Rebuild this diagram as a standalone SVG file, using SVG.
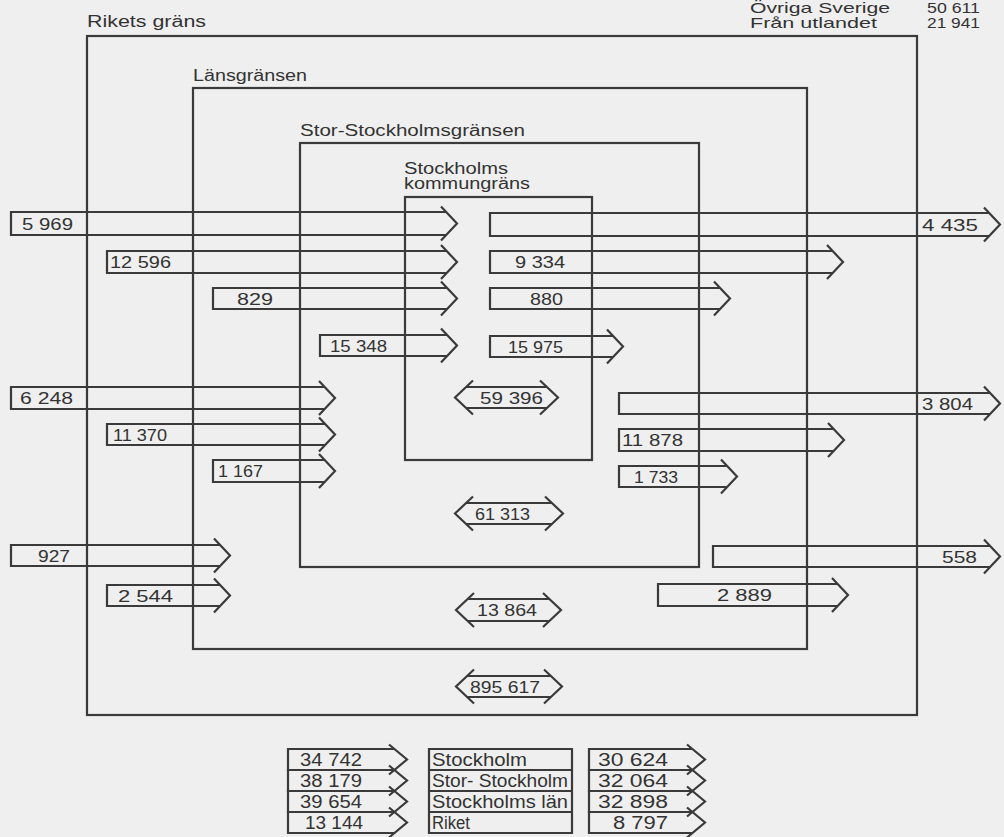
<svg xmlns="http://www.w3.org/2000/svg" width="1004" height="837" viewBox="0 0 1004 837">
<style>
.b{fill:none;stroke:#3a3a3a;stroke-width:2.2}
.a{fill:none;stroke:#3a3a3a;stroke-width:2.2;stroke-linejoin:miter}
.t{font-family:"Liberation Sans",Arial,sans-serif;font-size:16px;fill:#333}
.h{font-family:"Liberation Sans",Arial,sans-serif;font-size:15px;fill:#333}
.n{font-family:"Liberation Sans",Arial,sans-serif;font-size:17px;fill:#333}
.l{font-family:"Liberation Sans",Arial,sans-serif;font-size:18px;fill:#333}
</style>
<rect width="1004" height="837" fill="#efefef"/>
<g id="header">
<text class="h" x="750" y="13" textLength="140" lengthAdjust="spacingAndGlyphs">Övriga Sverige</text>
<text class="h" x="927" y="13" textLength="53" lengthAdjust="spacingAndGlyphs">50 611</text>
<text class="h" x="750" y="28" textLength="127" lengthAdjust="spacingAndGlyphs">Från utlandet</text>
<text class="h" x="927" y="28" textLength="53" lengthAdjust="spacingAndGlyphs">21 941</text>
</g>
<g id="riket">
<rect class="b" x="87" y="36" width="830" height="679"/>
<text class="t" x="87" y="27" textLength="119" lengthAdjust="spacingAndGlyphs">Rikets gräns</text>
</g>
<g id="lan">
<rect class="b" x="193" y="88" width="614" height="561"/>
<text class="t" x="193" y="81" textLength="114" lengthAdjust="spacingAndGlyphs">Länsgränsen</text>
</g>
<g id="storstockholm">
<rect class="b" x="300" y="143" width="399" height="424"/>
<text class="t" x="300" y="136" textLength="225" lengthAdjust="spacingAndGlyphs">Stor-Stockholmsgränsen</text>
</g>
<g id="kommun">
<rect class="b" x="405" y="197" width="187" height="263"/>
<text class="t" x="404" y="174" textLength="104" lengthAdjust="spacingAndGlyphs">Stockholms</text>
<text class="t" x="404" y="189" textLength="126" lengthAdjust="spacingAndGlyphs">kommungräns</text>
</g>
<g id="connectors">
<path class="a" d="M446.2,212 H11 V235 H446.2 M441,206.5 L457,223.5 L441,240.5"/>
<path class="a" d="M446.6,251 H107 V273 H446.6 M441,245 L457,262 L441,279"/>
<path class="a" d="M447.1,288 H213 V309 H447.1 M441,281.5 L457,298.5 L441,315.5"/>
<path class="a" d="M447.1,335 H320 V356 H447.1 M441,328.5 L457,345.5 L441,362.5"/>
<path class="a" d="M324.6,387 H11 V409 H324.6 M319,381 L335,398 L319,415"/>
<path class="a" d="M325.1,424 H107 V445 H325.1 M319,417.5 L335,434.5 L319,451.5"/>
<path class="a" d="M324.6,460 H213 V482 H324.6 M319,454 L335,471 L319,488"/>
<path class="a" d="M220.1,545 H11 V566 H220.1 M214,538.5 L230,555.5 L214,572.5"/>
<path class="a" d="M220.1,585 H107 V606 H220.1 M214,578.5 L230,595.5 L214,612.5"/>
<path class="a" d="M989.2,213 H490 V236 H989.2 M984,207.5 L1000,224.5 L984,241.5"/>
<path class="a" d="M832.6,251 H490 V273 H832.6 M827,245 L843,262 L827,279"/>
<path class="a" d="M720.1,288 H490 V309 H720.1 M714,281.5 L730,298.5 L714,315.5"/>
<path class="a" d="M613.1,336 H490 V357 H613.1 M607,329.5 L623,346.5 L607,363.5"/>
<path class="a" d="M990.1,393 H619 V414 H990.1 M984,386.5 L1000,403.5 L984,420.5"/>
<path class="a" d="M833.6,429 H619 V451 H833.6 M828,423 L844,440 L828,457"/>
<path class="a" d="M727.1,466 H619 V487 H727.1 M721,459.5 L737,476.5 L721,493.5"/>
<path class="a" d="M990.1,546 H713 V567 H990.1 M984,539.5 L1000,556.5 L984,573.5"/>
<path class="a" d="M837.6,584 H658 V606 H837.6 M832,578 L848,595 L832,612"/>
<path class="a" d="M466.1,387 H546.9 M466.1,408 H546.9 M473,380.5 L455,397.5 L473,414.5 M540,380.5 L558,397.5 L540,414.5"/>
<path class="a" d="M466.1,503 H551.9 M466.1,524 H551.9 M473,496.5 L455,513.5 L473,530.5 M545,496.5 L563,513.5 L545,530.5"/>
<path class="a" d="M467.6,599 H549.4 M467.6,621 H549.4 M474,593 L456,610 L474,627 M543,593 L561,610 L543,627"/>
<path class="a" d="M467.1,676 H550.9 M467.1,697 H550.9 M474,669.5 L456,686.5 L474,703.5 M544,669.5 L562,686.5 L544,703.5"/>
<text class="n" x="22" y="229.5" textLength="51" lengthAdjust="spacingAndGlyphs">5 969</text>
<text class="n" x="110" y="268" textLength="61" lengthAdjust="spacingAndGlyphs">12 596</text>
<text class="n" x="237" y="304.5" textLength="36" lengthAdjust="spacingAndGlyphs">829</text>
<text class="n" x="330" y="351.5" textLength="57" lengthAdjust="spacingAndGlyphs">15 348</text>
<text class="n" x="20" y="404" textLength="53" lengthAdjust="spacingAndGlyphs">6 248</text>
<text class="n" x="113" y="440.5" textLength="54" lengthAdjust="spacingAndGlyphs">11 370</text>
<text class="n" x="218" y="477" textLength="45" lengthAdjust="spacingAndGlyphs">1 167</text>
<text class="n" x="38" y="561.5" textLength="32" lengthAdjust="spacingAndGlyphs">927</text>
<text class="n" x="118" y="601.5" textLength="55" lengthAdjust="spacingAndGlyphs">2 544</text>
<text class="n" x="922" y="230.5" textLength="56" lengthAdjust="spacingAndGlyphs">4 435</text>
<text class="n" x="515" y="268" textLength="50" lengthAdjust="spacingAndGlyphs">9 334</text>
<text class="n" x="530" y="304.5" textLength="33" lengthAdjust="spacingAndGlyphs">880</text>
<text class="n" x="508" y="352.5" textLength="55" lengthAdjust="spacingAndGlyphs">15 975</text>
<text class="n" x="922" y="409.5" textLength="51" lengthAdjust="spacingAndGlyphs">3 804</text>
<text class="n" x="622" y="446" textLength="61" lengthAdjust="spacingAndGlyphs">11 878</text>
<text class="n" x="634" y="482.5" textLength="44" lengthAdjust="spacingAndGlyphs">1 733</text>
<text class="n" x="942" y="562.5" textLength="35" lengthAdjust="spacingAndGlyphs">558</text>
<text class="n" x="717" y="601" textLength="55" lengthAdjust="spacingAndGlyphs">2 889</text>
<text class="n" x="480" y="404" textLength="63" lengthAdjust="spacingAndGlyphs">59 396</text>
<text class="n" x="475" y="520" textLength="55" lengthAdjust="spacingAndGlyphs">61 313</text>
<text class="n" x="477" y="616" textLength="60" lengthAdjust="spacingAndGlyphs">13 864</text>
<text class="n" x="470" y="692.5" textLength="70" lengthAdjust="spacingAndGlyphs">895 617</text>
</g>
<g id="legend-in">
<path class="a" d="M394.4,749 H288 V770 H394.4 M389,744.5 L407,759.5 L389,774.5"/>
<path class="a" d="M394.4,770 H288 V791 H394.4 M389,765.5 L407,780.5 L389,795.5"/>
<path class="a" d="M394.4,791 H288 V812 H394.4 M389,786.5 L407,801.5 L389,816.5"/>
<path class="a" d="M394.4,812 H288 V833 H394.4 M389,807.5 L407,822.5 L389,837.5"/>
<text class="l" x="300" y="766" textLength="62" lengthAdjust="spacingAndGlyphs">34 742</text>
<text class="l" x="300" y="787" textLength="62" lengthAdjust="spacingAndGlyphs">38 179</text>
<text class="l" x="300" y="808" textLength="62" lengthAdjust="spacingAndGlyphs">39 654</text>
<text class="l" x="305" y="829" textLength="58" lengthAdjust="spacingAndGlyphs">13 144</text>
</g>
<g id="legend-names">
<path class="b" d="M429,749 H572 V833 H429 Z M429,770 H572 M429,791 H572 M429,812 H572"/>
<text class="l" x="432" y="766" textLength="95" lengthAdjust="spacingAndGlyphs">Stockholm</text>
<text class="l" x="432" y="787" textLength="136" lengthAdjust="spacingAndGlyphs">Stor- Stockholm</text>
<text class="l" x="432" y="808" textLength="136" lengthAdjust="spacingAndGlyphs">Stockholms län</text>
<text class="l" x="432" y="829" textLength="38" lengthAdjust="spacingAndGlyphs">Riket</text>
</g>
<g id="legend-out">
<path class="a" d="M692.4,749 H589 V770 H692.4 M687,744.5 L705,759.5 L687,774.5"/>
<path class="a" d="M692.4,770 H589 V791 H692.4 M687,765.5 L705,780.5 L687,795.5"/>
<path class="a" d="M692.4,791 H589 V812 H692.4 M687,786.5 L705,801.5 L687,816.5"/>
<path class="a" d="M692.4,812 H589 V833 H692.4 M687,807.5 L705,822.5 L687,837.5"/>
<text class="l" x="598" y="766" textLength="70" lengthAdjust="spacingAndGlyphs">30 624</text>
<text class="l" x="598" y="787" textLength="70" lengthAdjust="spacingAndGlyphs">32 064</text>
<text class="l" x="598" y="808" textLength="70" lengthAdjust="spacingAndGlyphs">32 898</text>
<text class="l" x="613" y="829" textLength="55" lengthAdjust="spacingAndGlyphs">8 797</text>
</g>
</svg>
